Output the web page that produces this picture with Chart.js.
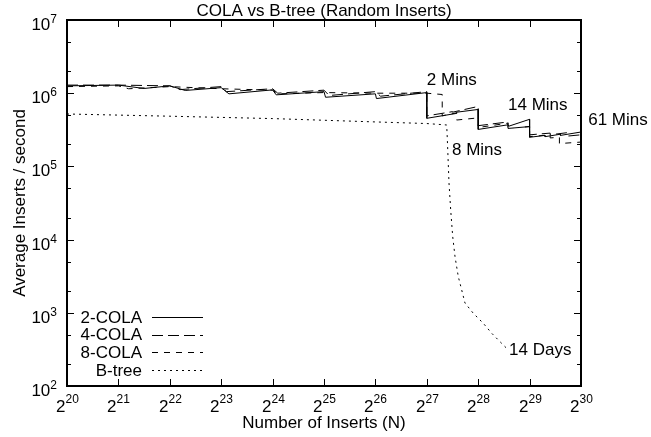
<!DOCTYPE html>
<html>
<head>
<meta charset="utf-8">
<script src="https://cdn.jsdelivr.net/npm/chart.js@4.4.1/dist/chart.umd.min.js"></script>
<style>
  html, body { margin: 0; padding: 0; background: #fff; }
  #grafico { display: block; }
</style>
</head>
<body>
<canvas id="grafico" width="651" height="437"></canvas>
<script>
// x = log2(N inserts), y = average inserts / second
var cola2X = [20, 21, 21.5, 22, 22.3, 23, 23.15, 24, 24.07, 25, 25.03, 26, 26.02, 27, 27, 27.58, 27.58, 28, 28, 28.58, 28.6, 29, 29, 29.3, 29.3, 29.6, 29.6, 30];
var cola2Y = [1.26e6, 1.29e6, 1.16e6, 1.26e6, 1.09e6, 1.19e6, 9.8e5, 1.11e6, 9.5e5, 1.05e6, 8.8e5, 9.8e5, 8.45e5, 1.02e6, 4.54e5, 5.3e5, 5.5e5, 6.0e5, 3.2e5, 3.7e5, 3.55e5, 4.4e5, 2.5e5, 2.65e5, 2.55e5, 2.75e5, 2.65e5, 2.95e5];

var cola4X = [20, 21, 22, 22.2, 23, 23.1, 24, 24.1, 25, 25.1, 26, 26.1, 27, 27, 27.5, 27.5, 28, 28, 28.58, 28.58, 29, 29, 29.4, 29.4, 29.75, 29.75, 30];
var cola4Y = [1.29e6, 1.29e6, 1.26e6, 1.12e6, 1.23e6, 1.05e6, 1.15e6, 1.0e6, 1.1e6, 9.3e5, 1.05e6, 9.1e5, 1.05e6, 4.9e5, 5.6e5, 5.5e5, 6.6e5, 3.6e5, 4.05e5, 3.3e5, 3.5e5, 2.7e5, 2.85e5, 2.7e5, 2.9e5, 2.6e5, 2.7e5];

var cola8X = [20, 21, 21.2, 22, 23, 24, 24.1, 25, 26, 27, 27.3, 27.3, 27.58, 27.58, 28, 28, 28.58, 28.58, 29, 29, 29.4, 29.4, 29.58, 29.58, 30];
var cola8Y = [1.23e6, 1.26e6, 1.15e6, 1.23e6, 1.15e6, 1.1e6, 9.8e5, 1.02e6, 1.0e6, 1.0e6, 9.6e5, 4.9e5, 5.4e5, 4.3e5, 4.6e5, 3.4e5, 3.9e5, 3.3e5, 3.5e5, 2.55e5, 2.7e5, 2.45e5, 2.5e5, 2.05e5, 2.15e5];

var btreeX = [20, 22, 24, 26, 27, 27.387, 27.40, 27.432, 27.465, 27.504, 27.549, 27.613, 27.679, 27.743, 27.905, 28.099, 28.263, 28.424, 28.541];
var btreeY = [5.2e5, 4.85e5, 4.5e5, 4.05e5, 3.85e5, 3.68e5, 2.3e5, 5.93e4, 2.53e4, 1.1e4, 5.84e3, 3.11e3, 2.05e3, 1.36e3, 984, 719, 525, 403, 334];

var xTickExps = [20, 21, 22, 23, 24, 25, 26, 27, 28, 29, 30];
var yTickExps = [2, 3, 4, 5, 6, 7];
var yMinorMults = [2, 5];

var legendNames = ['2-COLA', '4-COLA', '8-COLA', 'B-tree'];

// text beside the curves: [text, log2 N, inserts/s]
var notes = [
  ['2 Mins', 27.0, 1.29e6],
  ['14 Mins', 28.58, 5.9e5],
  ['61 Mins', 30.14, 3.7e5],
  ['8 Mins', 27.49, 1.43e5],
  ['14 Days', 28.6, 265]
];

var FONT = '"Liberation Sans", Arial, sans-serif';

function points(xs, ys) {
  return xs.map(function(x, i) { return {x: x, y: ys[i]}; });
}

function line(ctx, x1, y1, x2, y2) {
  ctx.beginPath();
  ctx.moveTo(x1, y1);
  ctx.lineTo(x2, y2);
  ctx.stroke();
}

function power(ctx, base, exp, x, y, supY, align) {
  ctx.font = '17px ' + FONT;
  var wb = ctx.measureText(base).width;
  ctx.font = '12px ' + FONT;
  var we = ctx.measureText(exp).width;
  var x0 = align === 'center' ? x - (wb + we) / 2 : x - wb - we;
  ctx.textAlign = 'left';
  ctx.textBaseline = 'alphabetic';
  ctx.font = '17px ' + FONT;
  ctx.fillText(base, x0, y);
  ctx.font = '12px ' + FONT;
  ctx.fillText(exp, x0 + wb, supY);
}

var gnuplotLook = {
  id: 'gnuplotLook',
  afterDraw: function(chart) {
    var ctx = chart.ctx;
    var area = chart.chartArea;
    var sx = chart.scales.x;
    var sy = chart.scales.y;
    ctx.save();
    ctx.strokeStyle = '#000';
    ctx.fillStyle = '#000';
    ctx.setLineDash([]);

    // ticks, mirrored on all sides
    ctx.lineWidth = 1;
    xTickExps.forEach(function(e) {
      var px = Math.round(sx.getPixelForValue(e)) + 0.5;
      line(ctx, px, area.bottom, px, area.bottom - 7);
      line(ctx, px, area.top, px, area.top + 7);
      power(ctx, '2', String(e), px, area.bottom + 26, area.bottom + 17, 'center');
    });
    yTickExps.forEach(function(e) {
      var py = Math.round(sy.getPixelForValue(Math.pow(10, e))) + 0.5;
      line(ctx, area.left, py, area.left + 7, py);
      line(ctx, area.right, py, area.right - 7, py);
      power(ctx, '10', String(e), 57, py + 9.5, py + 2, 'right');
      if (e < 7) {
        yMinorMults.forEach(function(m) {
          var pm = Math.round(sy.getPixelForValue(m * Math.pow(10, e))) + 0.5;
          line(ctx, area.left, pm, area.left + 4, pm);
          line(ctx, area.right, pm, area.right - 4, pm);
        });
      }
    });

    // frame
    ctx.lineWidth = 2;
    ctx.strokeRect(area.left, area.top, area.right - area.left, area.bottom - area.top);

    // titles
    ctx.font = '17px ' + FONT;
    ctx.textAlign = 'center';
    ctx.textBaseline = 'alphabetic';
    var cx = (area.left + area.right) / 2;
    ctx.fillText('COLA vs B-tree (Random Inserts)', cx, 16);
    ctx.fillText('Number of Inserts (N)', cx, 428);
    ctx.save();
    ctx.translate(25, (area.top + area.bottom) / 2);
    ctx.rotate(-Math.PI / 2);
    ctx.fillText('Average Inserts / second', 0, 0);
    ctx.restore();

    // legend
    ctx.textAlign = 'right';
    ctx.textBaseline = 'middle';
    chart.data.datasets.forEach(function(ds, i) {
      var ly = 317 + i * 17.7;
      ctx.fillText(legendNames[i], 142, ly + 1);
      ctx.lineWidth = 1;
      ctx.setLineDash(ds.borderDash || []);
      line(ctx, 152, Math.round(ly) + 0.5, 203, Math.round(ly) + 0.5);
      ctx.setLineDash([]);
    });

    // notes
    ctx.textAlign = 'left';
    ctx.textBaseline = 'alphabetic';
    notes.forEach(function(n) {
      ctx.fillText(n[0], sx.getPixelForValue(n[1]), sy.getPixelForValue(n[2]));
    });
    ctx.restore();
  }
};

var chart = new Chart(document.getElementById('grafico').getContext('2d'), {
  type: 'line',
  data: {
    datasets: [{
      label: '2-COLA',
      data: points(cola2X, cola2Y),
      borderColor: '#000',
      borderWidth: 1
    }, {
      label: '4-COLA',
      data: points(cola4X, cola4Y),
      borderColor: '#000',
      borderWidth: 1,
      borderDash: [11, 5]
    }, {
      label: '8-COLA',
      data: points(cola8X, cola8Y),
      borderColor: '#000',
      borderWidth: 1,
      borderDash: [6, 6]
    }, {
      label: 'B-tree',
      data: points(btreeX, btreeY),
      borderColor: '#000',
      borderWidth: 1,
      borderDash: [2, 4]
    }]
  },
  options: {
    responsive: false,
    animation: false,
    devicePixelRatio: 1,
    layout: { padding: { left: 67, right: 70, top: 20, bottom: 51 } },
    elements: { point: { radius: 0 }, line: { tension: 0 } },
    plugins: { legend: { display: false }, tooltip: { enabled: false } },
    scales: {
      x: { type: 'linear', min: 20, max: 30, display: false },
      y: { type: 'logarithmic', min: 100, max: 1e7, display: false }
    }
  },
  plugins: [gnuplotLook]
});
</script>
</body>
</html>
